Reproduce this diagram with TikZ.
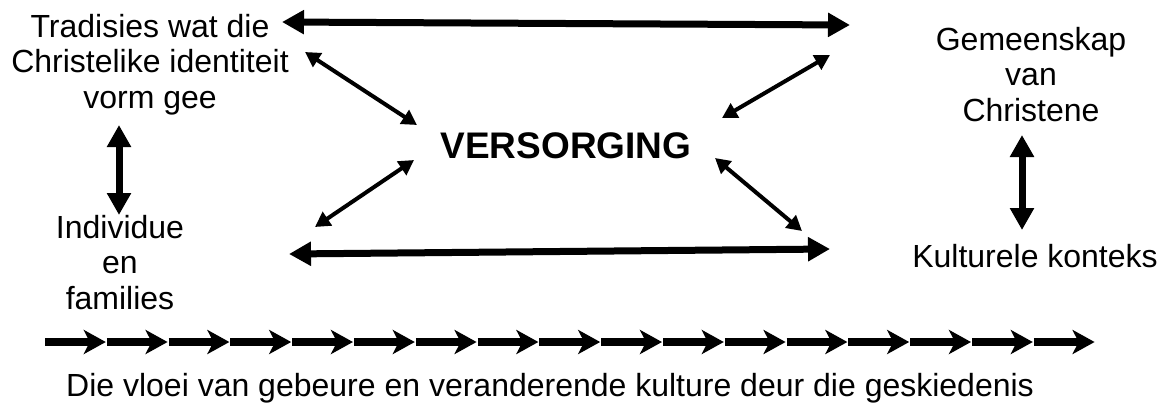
\documentclass[tikz,border=0pt]{standalone}
\usepackage{fontspec}
\setmainfont{Liberation Sans}
\usetikzlibrary{arrows.meta}
\begin{document}
\begin{tikzpicture}[x=1pt,y=-1pt,
  lbl/.style={font=\fontsize{32}{35.5}\selectfont, align=center, inner sep=0pt, anchor=base},
  big/.style={line width=7pt, {Triangle[length=22pt,width=23pt]}-{Triangle[length=22pt,width=23pt]}},
  diag/.style={line width=4pt, {Triangle[length=15pt,width=16pt]}-{Triangle[length=15pt,width=16pt]}},
  flow/.style={line width=8pt, -{Stealth[length=22pt,width=24pt,inset=6pt]}}]
\useasboundingbox (0,0) rectangle (1165,410);
% labels (anchor base = baseline of the last line)
\node[lbl] (trad) at (150,108) {Tradisies wat die\\Christelike identiteit\\vorm gee};
\node[lbl] (indiv) at (120,309) {Individue\\en\\families};
\node[lbl] (gem) at (1031,121) {Gemeenskap\\van\\Christene};
\node[lbl] (kult) at (1035,267) {Kulturele konteks};
\node[lbl, font=\fontsize{37}{40}\selectfont\bfseries] (vers) at (566,158) {VERSORGING};
\node[lbl, anchor=base west] (flowtxt) at (66,396) {Die vloei van gebeure en veranderende kulture deur die geskiedenis};
% arrow end points
\coordinate (tl) at (282,22);
\coordinate (tr) at (850,25);
\coordinate (bl) at (289,254);
\coordinate (br) at (830,249);
\coordinate (d1a) at (305,52);
\coordinate (d1b) at (417,125);
\coordinate (d2a) at (830,55);
\coordinate (d2b) at (722,118);
\coordinate (d3a) at (414,160);
\coordinate (d3b) at (315,227);
\coordinate (d4a) at (715,158);
\coordinate (d4b) at (802,231);
\coordinate (v1a) at (119,125);
\coordinate (v1b) at (119,215);
\coordinate (v2a) at (1022,135);
\coordinate (v2b) at (1022,230);
\draw[big] (tl) -- (tr);
\draw[big] (bl) -- (br);
\draw[big] (v1a) -- (v1b);
\draw[big] (v2a) -- (v2b);
\draw[diag] (d1a) -- (d1b);
\draw[diag] (d2a) -- (d2b);
\draw[diag] (d3a) -- (d3b);
\draw[diag] (d4a) -- (d4b);
% flow of arrows
\foreach \i in {0,...,17} {\coordinate (f\i) at (44+61.8*\i,342);}
\foreach \i [evaluate=\i as \j using int(\i+1)] in {0,...,16} {
  \draw[flow] ([xshift=1pt]f\i) -- (f\j);
}
\end{tikzpicture}
\end{document}
